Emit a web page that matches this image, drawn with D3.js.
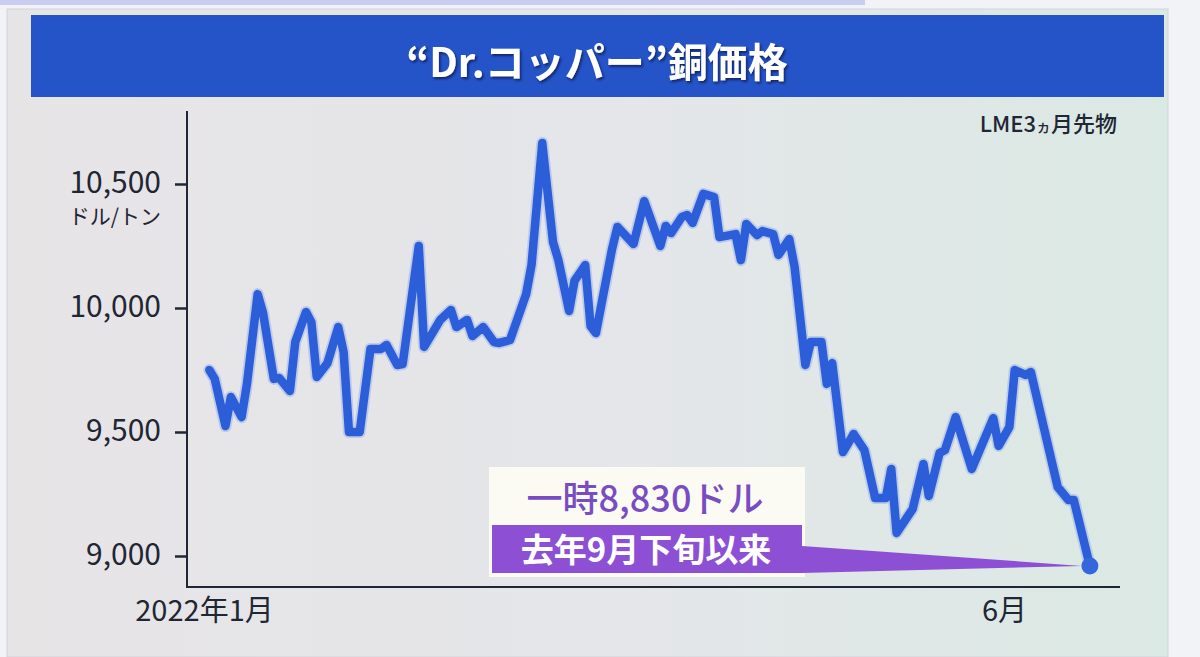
<!DOCTYPE html>
<html>
<head>
<meta charset="utf-8">
<script src="https://cdn.jsdelivr.net/npm/d3@7"></script>
<style>
  body { margin: 0; background: #f4f4f6; }
  svg { display: block; }
  text { font-family: "Noto Sans CJK JP", "Noto Sans", sans-serif; }
</style>
</head>
<body>
<svg width="1200" height="657"></svg>
<script>
// 銅価格 (LME3ヵ月先物, ドル/トン) 2022年1月〜6月
const dates = [
  "2022-01-04","2022-01-05","2022-01-07","2022-01-08","2022-01-10","2022-01-11","2022-01-13","2022-01-14",
  "2022-01-16","2022-01-17","2022-01-19","2022-01-20","2022-01-22","2022-01-23","2022-01-24","2022-01-26",
  "2022-01-28","2022-01-29","2022-01-30","2022-02-01","2022-02-03","2022-02-05","2022-02-06","2022-02-08",
  "2022-02-09","2022-02-12","2022-02-13","2022-02-16","2022-02-18","2022-02-19","2022-02-21","2022-02-22",
  "2022-02-24","2022-02-26","2022-02-27","2022-03-01","2022-03-04","2022-03-05","2022-03-07","2022-03-09",
  "2022-03-10","2022-03-12","2022-03-13","2022-03-15","2022-03-16","2022-03-17","2022-03-20","2022-03-21",
  "2022-03-24","2022-03-26","2022-03-29","2022-03-30","2022-03-31","2022-04-02","2022-04-03","2022-04-04",
  "2022-04-06","2022-04-08","2022-04-09","2022-04-12","2022-04-13","2022-04-14","2022-04-16","2022-04-17",
  "2022-04-19","2022-04-20","2022-04-22","2022-04-23","2022-04-25","2022-04-26","2022-04-28","2022-04-29",
  "2022-04-30","2022-05-02","2022-05-04","2022-05-06","2022-05-08","2022-05-10","2022-05-11","2022-05-12",
  "2022-05-15","2022-05-17","2022-05-18","2022-05-20","2022-05-21","2022-05-23","2022-05-26","2022-05-30",
  "2022-05-31","2022-06-02","2022-06-03","2022-06-05","2022-06-06","2022-06-11","2022-06-13","2022-06-14",
  "2022-06-17"
];
const prices = [
  9750, 9714, 9524, 9641, 9560, 9694, 10056, 9980,
  9714, 9718, 9665, 9863, 9984, 9943, 9722, 9778,
  9923, 9823, 9500, 9500, 9835, 9835, 9851, 9770,
  9774, 10250, 9843, 9952, 9992, 9923, 9952, 9887,
  9923, 9863, 9859, 9871, 10056, 10173, 10665, 10266,
  10193, 9988, 10109, 10173, 9927, 9899, 10238, 10327,
  10258, 10431, 10250, 10331, 10302, 10367, 10375, 10343,
  10460, 10447, 10286, 10298, 10193, 10339, 10294, 10310,
  10298, 10214, 10278, 10165, 9770, 9863, 9863, 9694,
  9778, 9419, 9492, 9427, 9234, 9234, 9351, 9093,
  9190, 9371, 9242, 9415, 9427, 9560, 9351, 9556,
  9444, 9520, 9750, 9730, 9742, 9278, 9226, 9226,
  8960
];
const yTicks = [9000, 9500, 10000, 10500];
const xTicks = ["2022-01-03", "2022-06-01"];
const xTickLabels = ["2022年1月", "6月"];

const parse = d3.timeParse("%Y-%m-%d");
const data = dates.map((d, i) => ({ date: parse(d), value: prices[i] }));

const svg = d3.select("svg");
const defs = svg.append("defs");

// 背景
const bg = defs.append("linearGradient").attr("id", "bg")
  .attr("x1", "0%").attr("y1", "0%").attr("x2", "100%").attr("y2", "0%");
bg.append("stop").attr("offset", "0%").attr("stop-color", "#e7e4e6");
bg.append("stop").attr("offset", "55%").attr("stop-color", "#e4e6e9");
bg.append("stop").attr("offset", "100%").attr("stop-color", "#dbe9e4");

const shadow = defs.append("filter").attr("id", "shadow")
  .attr("x", "-10%").attr("y", "-30%").attr("width", "120%").attr("height", "160%");
shadow.append("feDropShadow").attr("dx", 1.5).attr("dy", 2).attr("stdDeviation", 1.2)
  .attr("flood-color", "#0a1a50").attr("flood-opacity", 0.8);

svg.append("rect").attr("width", 1200).attr("height", 657).attr("fill", "#f2f3f6");
svg.append("rect").attr("x", 0).attr("y", 0).attr("width", 865).attr("height", 5).attr("fill", "#c9cdef");
svg.append("rect").attr("x", 7).attr("y", 9).attr("width", 1161).attr("height", 648)
  .attr("fill", "url(#bg)").attr("stroke", "#d2d3da").attr("stroke-width", 1);

// タイトル
svg.append("rect").attr("x", 31).attr("y", 15).attr("width", 1133).attr("height", 82)
  .attr("fill", "#2454c8");
svg.append("text")
  .attr("x", 597).attr("y", 77)
  .attr("text-anchor", "middle")
  .attr("fill", "#ffffff")
  .attr("font-size", 40)
  .attr("font-weight", 700)
  .attr("filter", "url(#shadow)")
  .text("“Dr.コッパー”銅価格");

const x = d3.scaleTime()
  .domain([parse(xTicks[0]), parse(xTicks[1])])
  .range([204, 1004]);
const y = d3.scaleLinear()
  .domain([9000, 10500])
  .range([556, 184]);

const axisColor = "#1f2634";

// 軸
svg.append("line").attr("x1", 187).attr("x2", 187).attr("y1", 111).attr("y2", 588)
  .attr("stroke", axisColor).attr("stroke-width", 2);
svg.append("line").attr("x1", 186).attr("x2", 1120).attr("y1", 587).attr("y2", 587)
  .attr("stroke", axisColor).attr("stroke-width", 2);

const yAxis = svg.append("g")
  .attr("transform", "translate(187,0)")
  .call(d3.axisLeft(y).tickValues(yTicks).tickFormat(d3.format(",")).tickSize(12).tickPadding(14));
yAxis.select(".domain").remove();
yAxis.selectAll(".tick line").attr("stroke", axisColor).attr("stroke-width", 2.5);
yAxis.selectAll(".tick text")
  .attr("fill", axisColor)
  .attr("font-size", 30)
  .attr("font-weight", 400)
  .attr("dy", "0.28em")
  .attr("font-family", "\"Noto Sans CJK JP\", sans-serif");

svg.append("text")
  .attr("x", 161).attr("y", 224)
  .attr("text-anchor", "end")
  .attr("fill", axisColor)
  .attr("font-size", 21)
  .attr("font-weight", 400)
  .text("ドル/トン");

const xAxis = svg.append("g")
  .attr("transform", "translate(0,587)")
  .call(d3.axisBottom(x).tickValues(xTicks.map(parse)).tickSize(0).tickPadding(13)
    .tickFormat((d, i) => xTickLabels[i]));
xAxis.select(".domain").remove();
xAxis.selectAll(".tick text")
  .attr("fill", axisColor)
  .attr("font-size", 29)
  .attr("font-weight", 400)
  .attr("font-family", "\"Noto Sans CJK JP\", sans-serif");

svg.append("text")
  .attr("x", 1117).attr("y", 132)
  .attr("text-anchor", "end")
  .attr("fill", axisColor)
  .attr("font-size", 22)
  .attr("font-weight", 500)
  .html('LME3<tspan font-size="15">ヵ</tspan>月先物');

// 線
const line = d3.line()
  .x(d => x(d.date))
  .y(d => y(d.value));

svg.append("path")
  .datum(data)
  .attr("fill", "none")
  .attr("stroke", "#8ea8e8")
  .attr("stroke-opacity", 0.45)
  .attr("stroke-width", 12)
  .attr("stroke-linejoin", "round")
  .attr("stroke-linecap", "round")
  .attr("d", line);
svg.append("path")
  .datum(data)
  .attr("fill", "none")
  .attr("stroke", "#2b5ed8")
  .attr("stroke-width", 8.5)
  .attr("stroke-linejoin", "round")
  .attr("stroke-linecap", "round")
  .attr("d", line);

// 注記
const last = data[data.length - 1];
const lx = x(last.date), ly = y(last.value);

svg.append("rect").attr("x", 489).attr("y", 467).attr("width", 316).attr("height", 110)
  .attr("fill", "#fbfbf4");
svg.append("polygon")
  .attr("points", `802,546 ${lx - 8},${ly} 802,573`)
  .attr("fill", "#8d4fd4");
svg.append("rect").attr("x", 492).attr("y", 525).attr("width", 310).attr("height", 48)
  .attr("fill", "#8d4fd4");

svg.append("circle")
  .attr("cx", lx).attr("cy", ly).attr("r", 8.5)
  .attr("fill", "#3567dc");

svg.append("text")
  .attr("x", 645).attr("y", 512)
  .attr("text-anchor", "middle")
  .attr("fill", "#7a4cc2")
  .attr("font-size", 36)
  .attr("font-weight", 500)
  .text("一時8,830ドル");
svg.append("text")
  .attr("x", 646).attr("y", 562)
  .attr("text-anchor", "middle")
  .attr("fill", "#ffffff")
  .attr("font-size", 33)
  .attr("font-weight", 700)
  .text("去年9月下旬以来");
</script>
</body>
</html>
